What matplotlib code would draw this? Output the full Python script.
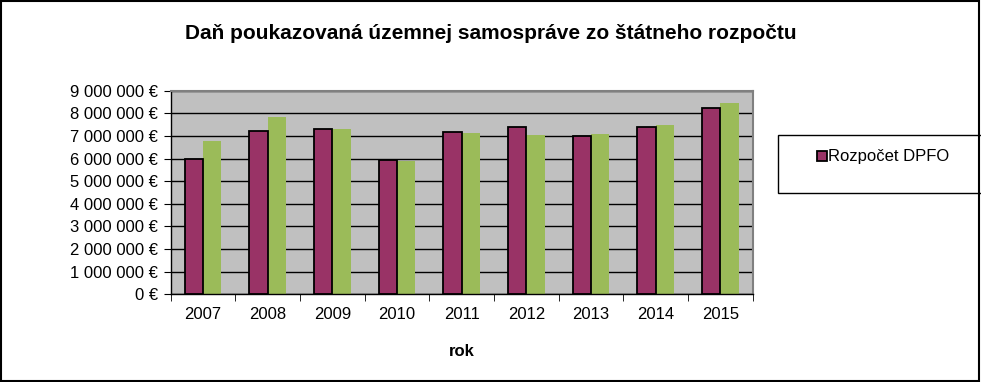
import matplotlib

matplotlib.use("Agg")
import matplotlib.pyplot as plt
import numpy as np
from matplotlib.patches import Rectangle
from matplotlib.ticker import FuncFormatter, FixedLocator

years = ["2007", "2008", "2009", "2010", "2011", "2012", "2013", "2014", "2015"]
rozpocet = [5.96e6, 7.23e6, 7.32e6, 5.92e6, 7.19e6, 7.41e6, 7.00e6, 7.41e6, 8.23e6]
skutocnost = [6.77e6, 7.83e6, 7.30e6, 5.89e6, 7.13e6, 7.04e6, 7.08e6, 7.48e6, 8.45e6]

plt.rcParams["font.family"] = ["Liberation Sans", "DejaVu Sans"]

fig = plt.figure(figsize=(9.81, 3.82), dpi=100)
ax = fig.add_axes([0.174, 0.2296, 0.5933, 0.533])

x = np.arange(len(years))
width = 0.285
ax.bar(x - width / 2, rozpocet, width, color="#993366", edgecolor="black",
       linewidth=1.3, label="Rozpočet DPFO", zorder=3)
ax.bar(x + width / 2, skutocnost, width, color="#9BBB59", linewidth=0, zorder=2)

ax.set_facecolor("#C0C0C0")
ax.set_xlim(-0.5, len(years) - 0.5)
ax.set_ylim(0, 9e6)
ax.set_yticks(np.arange(0, 9e6 + 1, 1e6))
ax.yaxis.set_major_formatter(FuncFormatter(
    lambda v, _: f"{int(v):,} €".replace(",", " ")))
ax.yaxis.grid(True, color="black", linewidth=1, zorder=1)
ax.set_axisbelow(True)

ax.set_xticks(x)
ax.set_xticklabels(years)
ax.xaxis.set_minor_locator(FixedLocator(np.arange(-0.5, len(years), 1)))
ax.tick_params(axis="x", which="major", length=0, pad=9, labelsize=12)
ax.tick_params(axis="x", which="minor", length=5, direction="out", color="black")
ax.tick_params(axis="y", length=5, direction="out", color="black", labelsize=12, pad=4)

for side in ["top", "right"]:
    ax.spines[side].set_color("#808080")
    ax.spines[side].set_linewidth(1.5)
for side in ["left", "bottom"]:
    ax.spines[side].set_color("black")
    ax.spines[side].set_linewidth(1)

ax.set_xlabel("rok", fontsize=12, fontweight="bold", labelpad=16)
fig.text(0.5, 0.913, "Daň poukazovaná územnej samospráve zo štátneho rozpočtu",
         ha="center", va="center", fontsize=15, fontweight="bold")

# legend box, cut off at the right edge like the original
fig.patches.append(Rectangle((778 / 981, 1 - 193 / 382), 0.3, 58 / 382,
                             transform=fig.transFigure, facecolor="white",
                             edgecolor="black", linewidth=1))
leg = fig.legend(loc="center left", bbox_to_anchor=(809 / 981, 1 - 157 / 382),
                 frameon=False, fontsize=12, handlelength=0.55, handleheight=0.55,
                 handletextpad=0.1, borderpad=0)

# outer chart border
fig.patches.append(Rectangle((0.001, 0.002), 0.997, 0.996, transform=fig.transFigure,
                             facecolor="none", edgecolor="black", linewidth=1.5))

fig.savefig("out.png", dpi=100)
